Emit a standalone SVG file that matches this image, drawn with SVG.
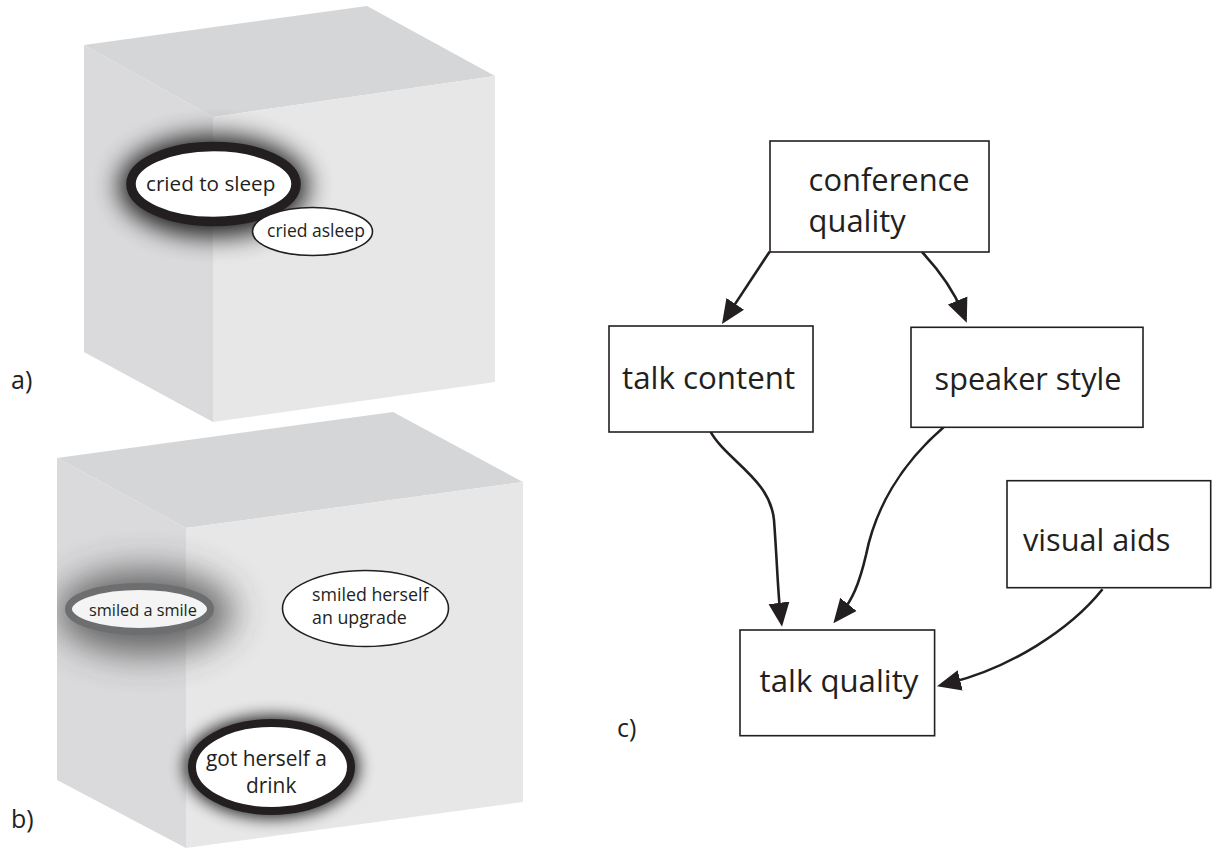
<svg xmlns="http://www.w3.org/2000/svg" width="1218" height="850" viewBox="0 0 1218 850">
<style>
.txt{font-family:"Open Sans","Noto Sans","Liberation Sans",sans-serif;fill:#231f20}
.top{fill:#d5d6d8}
.left{fill:#dadadc}
.right{fill:#e7e7e8}
.box{fill:#ffffff;stroke:#231f20;stroke-width:1.6}
.thick{fill:#ffffff;stroke:#231f20}
.thin{fill:#ffffff;stroke:#231f20;stroke-width:1.6}
.edge{fill:none;stroke:#231f20;stroke-width:2.6}
</style>
<defs>
<filter id="blurBig" x="-60%" y="-60%" width="220%" height="220%"><feGaussianBlur stdDeviation="13"/></filter>
<filter id="blurMid" x="-60%" y="-60%" width="220%" height="220%"><feGaussianBlur stdDeviation="18"/></filter>
<filter id="blurSmall" x="-50%" y="-50%" width="200%" height="200%"><feGaussianBlur stdDeviation="8"/></filter>
<clipPath id="cubeAClip"><polygon points="84,45 367,6 495,76 495,382 213,422 84,352"/></clipPath>
<clipPath id="cubeBClip"><polygon points="57,458 393,412 523,482 523,802 186,848 57,780"/></clipPath>
<marker id="arrow" viewBox="0 0 24 24" refX="12" refY="12" markerWidth="24" markerHeight="24" markerUnits="userSpaceOnUse" orient="auto">
<path d="M0,1.5 L24,12 L0,22.5 z" fill="#231f20"/>
</marker>
</defs>
<rect width="1218" height="850" fill="#ffffff"/>

<g id="cube-a">
<polygon class="top" points="84,45 367,6 495,76 213,117"/>
<polygon class="left" points="84,45 213,117 213,422 84,352"/>
<polygon class="right" points="213,117 495,76 495,382 213,422"/>
<g clip-path="url(#cubeAClip)">
<ellipse cx="213.5" cy="186" rx="94" ry="50" fill="#000000" opacity="0.9" filter="url(#blurBig)"/>
</g>
</g>
<g id="node-cried-to-sleep">
<ellipse class="thick" cx="213.5" cy="184" rx="82.5" ry="37.5" stroke-width="9.5"/>
<text class="txt" x="146" y="191" font-size="20.7">cried to sleep</text>
</g>
<g id="node-cried-asleep">
<ellipse class="thin" cx="312.5" cy="231.5" rx="60" ry="24"/>
<text class="txt" x="267" y="237" font-size="17.5">cried asleep</text>
</g>
<text class="txt" x="11" y="389" font-size="25">a)</text>

<g id="cube-b">
<polygon class="top" points="57,458 393,412 523,482 186,528"/>
<polygon class="left" points="57,458 186,528 186,848 57,780"/>
<polygon class="right" points="186,528 523,482 523,802 186,848"/>
<g clip-path="url(#cubeBClip)">
<ellipse cx="145" cy="612" rx="88" ry="42" fill="#3a3a3a" opacity="0.75" filter="url(#blurMid)"/>
<ellipse cx="271.5" cy="767" rx="87" ry="51" fill="#000000" opacity="0.85" filter="url(#blurSmall)"/>
</g>
</g>
<g id="node-smiled-a-smile">
<ellipse cx="139.5" cy="609" rx="71" ry="22.5" fill="#f4f4f4" stroke="#6d6e70" stroke-width="7"/>
<text class="txt" x="89" y="616" font-size="16.3">smiled a smile</text>
</g>
<g id="node-smiled-herself">
<ellipse class="thin" cx="365.5" cy="608.5" rx="83" ry="38"/>
<text class="txt" x="312" y="601" font-size="17.8">smiled herself</text>
<text class="txt" x="312" y="624" font-size="17.8">an upgrade</text>
</g>
<g id="node-got-herself">
<ellipse class="thick" cx="271.5" cy="767" rx="79.5" ry="44" stroke-width="8"/>
<text class="txt" x="206" y="766" font-size="20.9">got herself a</text>
<text class="txt" x="246" y="793" font-size="20.9">drink</text>
</g>
<text class="txt" x="11" y="828" font-size="25">b)</text>

<g id="connectors">
<path class="edge" d="M769.6,251.7 L728.6,313.9" marker-end="url(#arrow)"/>
<path class="edge" d="M922,252 Q950,282 962.2,311.6" marker-end="url(#arrow)"/>
<path class="edge" d="M709.6,430 C725,460 770,478 774,520 C777,560 778,595 780.5,614.8" marker-end="url(#arrow)"/>
<path class="edge" d="M943.6,427.3 C900,465 875,510 866,555 C859,585 852,600 840.9,613.8" marker-end="url(#arrow)"/>
<path class="edge" d="M1102.5,589.3 C1070,630 1010,668 948.6,683.3" marker-end="url(#arrow)"/>
</g>

<g id="node-conference-quality">
<rect class="box" x="770" y="141" width="219" height="111"/>
<text class="txt" x="808.6" y="190.7" font-size="30.9">conference</text>
<text class="txt" x="808.6" y="231.7" font-size="30.9">quality</text>
</g>
<g id="node-talk-content">
<rect class="box" x="609" y="326" width="204" height="106"/>
<text class="txt" x="622" y="389.3" font-size="31.3">talk content</text>
</g>
<g id="node-speaker-style">
<rect class="box" x="911" y="327.3" width="232" height="100"/>
<text class="txt" x="934.6" y="390" font-size="30.6">speaker style</text>
</g>
<g id="node-visual-aids">
<rect class="box" x="1007" y="480.7" width="203.7" height="107"/>
<text class="txt" x="1023" y="550.5" font-size="30.7">visual aids</text>
</g>
<g id="node-talk-quality">
<rect class="box" x="740" y="630" width="194.6" height="105.7"/>
<text class="txt" x="759.6" y="691.7" font-size="31.2">talk quality</text>
</g>
<text class="txt" x="617" y="737" font-size="25">c)</text>
</svg>
